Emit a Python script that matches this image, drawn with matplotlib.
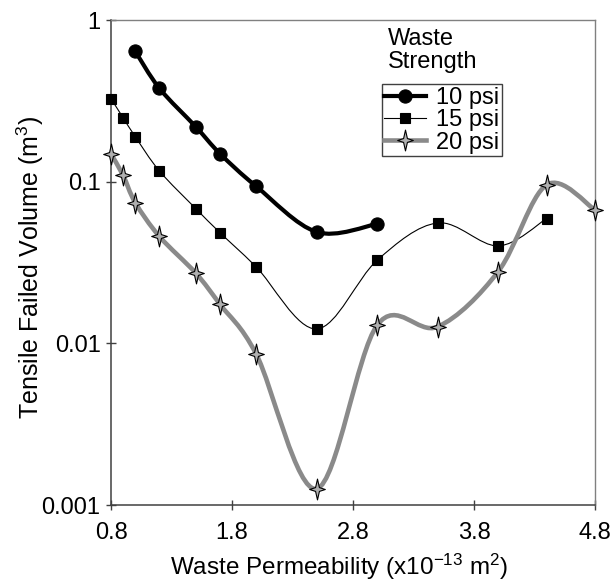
import numpy as np
import matplotlib
matplotlib.use("Agg")
import matplotlib.pyplot as plt
from matplotlib.path import Path
from matplotlib.patches import PathPatch
from matplotlib.lines import Line2D

plt.rcParams['font.family'] = ['Liberation Sans', 'DejaVu Sans']
plt.rcParams['mathtext.fontset'] = 'custom'
plt.rcParams['mathtext.rm'] = 'Liberation Sans'
plt.rcParams['mathtext.it'] = 'Liberation Sans'

# data (x in 1e-13 m2, y in m3)
x_10 = [1.0, 1.2, 1.5, 1.7, 2.0, 2.5, 3.0]
y_10 = [0.645, 0.38, 0.22, 0.15, 0.094, 0.049, 0.055]

x_15 = [0.8, 0.9, 1.0, 1.2, 1.5, 1.7, 2.0, 2.5, 3.0, 3.5, 4.0, 4.4]
y_15 = [0.328, 0.25, 0.191, 0.117, 0.0685, 0.0486, 0.0298, 0.0123, 0.0328, 0.0558, 0.0402, 0.0594]

x_20 = [0.8, 0.9, 1.0, 1.2, 1.5, 1.7, 2.0, 2.5, 3.0, 3.5, 4.0, 4.4, 4.8]
y_20 = [0.149, 0.11, 0.0746, 0.046, 0.0273, 0.0175, 0.0086, 0.00126, 0.0130, 0.0127, 0.0279, 0.096, 0.0672]

labels = ["10 psi", "15 psi", "20 psi"]
xticks = [0.8, 1.8, 2.8, 3.8, 4.8]
yticks = [0.001, 0.01, 0.1, 1]
ytick_labels = ["0.001", "0.01", "0.1", "1"]


def smooth_path(xs, ys):
    # Excel-style smoothed line: cubic bezier through the points in (x, log y)
    p = np.column_stack([xs, np.log10(ys)])
    n = len(p)
    verts = [p[0]]
    codes = [Path.MOVETO]
    for i in range(n - 1):
        p0 = p[i - 1] if i > 0 else p[i]
        p3 = p[i + 2] if i + 2 < n else p[i + 1]
        c1 = p[i] + (p[i + 1] - p0) / 6
        c2 = p[i + 1] - (p3 - p[i]) / 6
        verts += [c1, c2, p[i + 1]]
        codes += [Path.CURVE4] * 3
    verts = np.array(verts)
    verts[:, 1] = 10 ** verts[:, 1]
    return Path(verts, codes)


# 4-point star marker, a bit taller than wide
ang = np.deg2rad(90 + np.arange(8) * 45)
rad = np.where(np.arange(8) % 2 == 0, 1.0, 0.26)
sx = np.where(np.abs(np.cos(ang)) > 0.9, 0.75, 1.0)
star = Path(np.column_stack([sx * rad * np.cos(ang), rad * np.sin(ang)]).tolist() + [[0, 1]],
            [Path.MOVETO] + [Path.LINETO] * 7 + [Path.CLOSEPOLY])

fig = plt.figure(figsize=(6.15, 5.82), dpi=100)
ax = fig.add_axes([0.1805, 0.1323, 0.787, 0.8325])
ax.set_yscale('log')

styles = [
    dict(color='black', lw=3.0, marker='o', ms=9.5, mfc='black', mec='black'),
    dict(color='black', lw=0.8, marker='s', ms=7.2, mfc='black', mec='black'),
    dict(color='#8a8a8a', lw=3.3, marker=star, ms=15, mfc='#b0b0b0', mec='black'),
]
series = [(x_10, y_10), (x_15, y_15), (x_20, y_20)]

handles = []
for (xs, ys), st, lab in zip(series, styles, labels):
    ax.add_patch(PathPatch(smooth_path(xs, ys), fill=False, edgecolor=st['color'],
                           lw=st['lw'], capstyle='round', joinstyle='round', zorder=2))
    ax.plot(xs, ys, linestyle='none', marker=st['marker'], ms=st['ms'],
            mfc=st['mfc'], mec=st['mec'], mew=0.8, zorder=3, clip_on=False)
    handles.append(Line2D([], [], color=st['color'], lw=st['lw'], marker=st['marker'],
                          ms=st['ms'], mfc=st['mfc'], mec=st['mec'], mew=0.8, label=lab))

ax.set_xlim(0.8, 4.8)
ax.set_ylim(0.001, 1)
ax.set_xticks(xticks)
ax.set_xticklabels([f"{t:.1f}" for t in xticks])
ax.set_yticks(yticks)
ax.set_yticklabels(ytick_labels)
ax.yaxis.set_minor_locator(matplotlib.ticker.NullLocator())
ax.tick_params(direction='inout', length=7, width=1, color='#404040', labelsize=17)
ax.tick_params(axis='x', pad=9)
ax.tick_params(axis='y', pad=4)

for s in ['left', 'bottom']:
    ax.spines[s].set_color('#404040')
    ax.spines[s].set_linewidth(1.1)
for s in ['top', 'right']:
    ax.spines[s].set_color('#808080')
    ax.spines[s].set_linewidth(1.0)

ax.set_xlabel("Waste Permeability (x10$^{-13}$ m$^2$)", fontsize=17.5)
ax.set_ylabel("Tensile Failed Volume (m$^3$)", fontsize=18)
ax.xaxis.set_label_coords(0.471, -0.097)
ax.yaxis.set_label_coords(-0.135, 0.49)

ax.text(0.572, 0.985, "Waste\nStrength", transform=ax.transAxes, fontsize=17,
        va='top', ha='left', linespacing=1.1)
leg = ax.legend(handles=handles, loc='upper left', bbox_to_anchor=(0.56, 0.868),
                fontsize=17, frameon=True, fancybox=False, borderpad=0.1,
                labelspacing=0.02, handlelength=1.75, handletextpad=0.45,
                borderaxespad=0, framealpha=1)
leg.get_frame().set_edgecolor('#404040')
leg.get_frame().set_linewidth(1.0)

fig.savefig("out.png", dpi=100)
